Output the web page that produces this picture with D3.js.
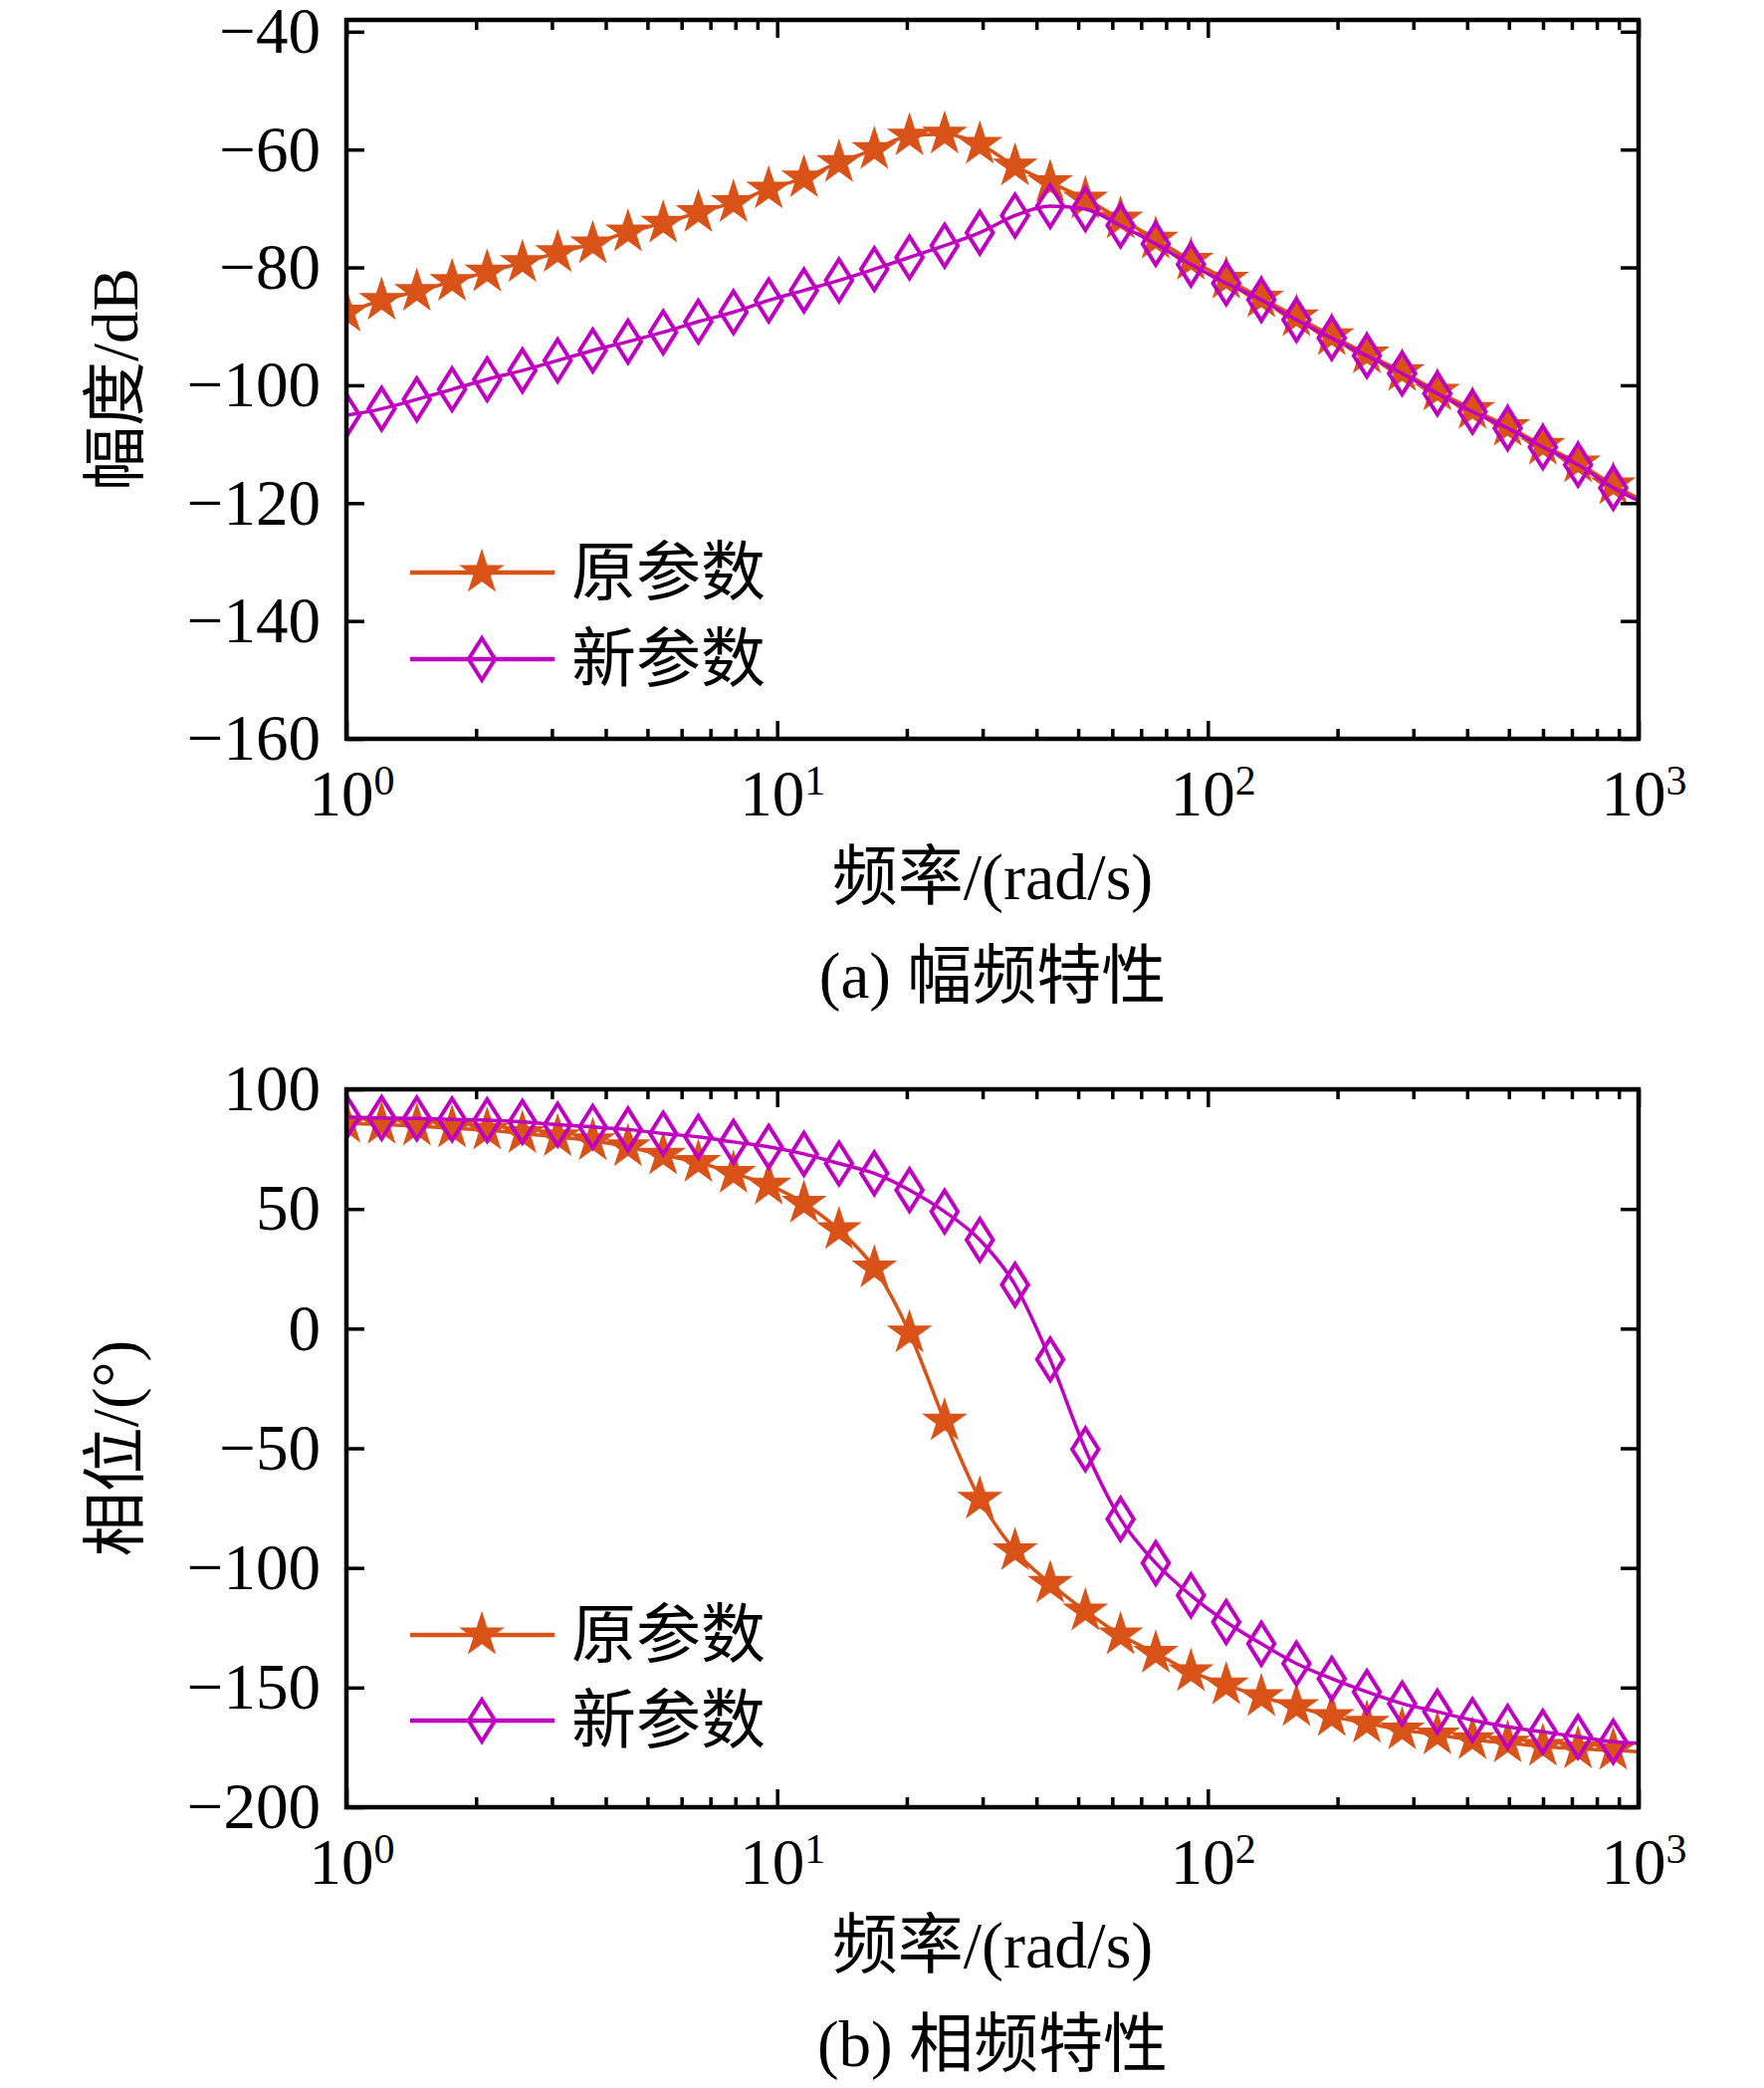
<!DOCTYPE html>
<html>
<head>
<meta charset="utf-8">
<script src="https://cdn.jsdelivr.net/npm/d3@7"></script>
<style>
  body { margin: 0; background: #fff; }
  text { font-family: "Liberation Serif", "Times New Roman", "Noto Sans CJK SC", serif; fill: #000; }
</style>
</head>
<body>
<div id="chart"></div>
<script>
// marker frequencies (rad/s), last value is the end of the curve at 10^3
var freq = [1.000, 1.207, 1.457, 1.759, 2.122, 2.562, 3.093, 3.732, 4.505, 5.437,
  6.561, 7.918, 9.559, 11.54, 13.92, 16.81, 20.29, 24.48, 29.55, 35.67,
  43.05, 51.95, 62.71, 75.69, 91.36, 110.3, 133.1, 160.6, 193.9, 234.0,
  282.5, 341.0, 411.5, 496.7, 599.5, 723.6, 873.4, 1000];

// magnitude (dB)
var magOld = [-87.6, -85.6, -84.1, -82.4, -80.8, -79.2, -77.5, -76.0, -74.0, -72.5,
  -70.7, -69.0, -66.7, -64.8, -62.2, -60.0, -57.7, -57.4, -59.1, -62.8,
  -65.6, -68.4, -71.8, -75.2, -78.8, -82.0, -85.2, -88.4, -91.6, -94.7,
  -97.7, -101.0, -104.1, -107.0, -110.2, -113.2, -116.9, -119.2];
var magNew = [-105.1, -104.0, -102.4, -100.7, -99.0, -97.5, -95.8, -94.1, -92.6, -91.0,
  -89.2, -87.6, -85.6, -83.9, -82.2, -80.3, -78.3, -76.3, -74.1, -71.2,
  -69.6, -70.1, -72.9, -76.0, -79.5, -82.7, -85.5, -88.9, -92.0, -95.0,
  -98.0, -101.4, -104.5, -107.3, -110.5, -113.5, -117.4, -119.6];

// phase (deg)
var phaseOld = [85.8, 85.3, 84.6, 83.8, 82.9, 81.5, 80.1, 78.5, 76.0, 72.5,
  69.4, 64.9, 60.0, 52.4, 41.3, 25.3, -1.8, -38.6, -71.3, -92.8,
  -106.5, -118.0, -128.0, -135.7, -143.4, -148.9, -153.8, -158.0, -162.1, -164.9,
  -167.7, -169.8, -171.8, -173.2, -174.6, -175.6, -176.3, -176.8];
var phaseNew = [88.5, 88.0, 87.8, 87.4, 87.1, 86.4, 85.2, 84.3, 83.2, 81.5,
  80.1, 78.0, 76.0, 73.0, 69.0, 64.9, 57.9, 48.9, 37.1, 18.3,
  -12.9, -50.4, -79.6, -98.0, -111.5, -122.6, -131.7, -140.0, -146.3, -151.8,
  -156.7, -160.1, -163.6, -166.4, -168.5, -170.6, -172.6, -173.3];

var magTicks = [-160, -140, -120, -100, -80, -60, -40];
var phaseTicks = [-200, -150, -100, -50, 0, 50, 100];
var decadeTicks = [1, 10, 100, 1000];
var minorTicks = [2, 3, 4, 5, 6, 7, 8, 9, 20, 30, 40, 50, 60, 70, 80, 90, 200, 300, 400, 500, 600, 700, 800, 900];

var seriesNames = ["原参数", "新参数"];
var colors = ["#D95319", "#C000C0"];

var fontFam = '"Liberation Serif", "Times New Roman", "Noto Sans CJK SC", serif';

var svg = d3.select("#chart")
  .append("svg")
  .attr("width", 1772)
  .attr("height", 2097);

svg.append("rect").attr("width", 1772).attr("height", 2097).attr("fill", "#fff");

var left = 348, right = 1646;
var x = d3.scaleLog().domain([1, 1000]).range([left, right]);

// diamond taller than wide, like the reference
var tallDiamond = {
  draw: function (ctx, size) {
    var h = Math.sqrt(size) * 0.62, w = h * 0.63;
    ctx.moveTo(0, -h);
    ctx.lineTo(w, 0);
    ctx.lineTo(0, h);
    ctx.lineTo(-w, 0);
    ctx.closePath();
  }
};
var starPath = d3.symbol(d3.symbolStar, 490)();
var diamondPath = d3.symbol(tallDiamond, 1150)();

function drawMarker(sel, k) {
  if (k === 0) {
    sel.append("path").attr("d", starPath)
      .attr("fill", colors[0]).attr("stroke", colors[0]).attr("stroke-width", 2);
  } else {
    sel.append("path").attr("d", diamondPath)
      .attr("fill", "none").attr("stroke", colors[1]).attr("stroke-width", 4);
  }
}

function drawPanel(cfg) {
  var y = d3.scaleLinear().domain(cfg.yDomain).range([cfg.bottom, cfg.top]);
  var g = svg.append("g");

  var clipId = "clip" + cfg.id;
  g.append("clipPath").attr("id", clipId)
    .append("rect")
    .attr("x", left).attr("y", cfg.top)
    .attr("width", right - left).attr("height", cfg.bottom - cfg.top);

  // series
  var line = d3.line()
    .x(d => x(d.f))
    .y(d => y(d.v))
    .curve(d3.curveMonotoneX);

  var plot = g.append("g").attr("clip-path", "url(#" + clipId + ")");
  cfg.series.forEach(function (vals, k) {
    var data = freq.map((f, i) => ({ f: f, v: vals[i] }));
    plot.append("path")
      .datum(data)
      .attr("fill", "none")
      .attr("stroke", colors[k])
      .attr("stroke-width", 3.5)
      .attr("d", line);
    var marks = plot.selectAll(".m" + k)
      .data(data.filter(d => d.f < 1000))
      .enter()
      .append("g")
      .attr("class", "m" + k)
      .attr("transform", d => `translate(${x(d.f)}, ${y(d.v)})`);
    drawMarker(marks, k);
  });

  // minor ticks, bottom and top
  g.append("g")
    .attr("transform", `translate(0, ${cfg.bottom})`)
    .call(d3.axisBottom(x).tickValues(minorTicks).tickSize(-10).tickFormat(""))
    .call(a => a.select(".domain").remove());
  g.append("g")
    .attr("transform", `translate(0, ${cfg.top})`)
    .call(d3.axisTop(x).tickValues(minorTicks).tickSize(-10).tickFormat(""))
    .call(a => a.select(".domain").remove());

  // major x ticks with 10^n labels
  var xAxis = g.append("g")
    .attr("transform", `translate(0, ${cfg.bottom})`)
    .call(d3.axisBottom(x).tickValues(decadeTicks).tickSize(-18).tickPadding(31).tickFormat(""))
    .call(a => a.select(".domain").remove());
  xAxis.attr("font-family", fontFam).attr("font-size", 65);
  xAxis.selectAll(".tick text").each(function (d) {
    var t = d3.select(this).attr("dx", 5).attr("fill", "#000");
    t.append("tspan").text("10");
    t.append("tspan").attr("dy", -21).style("font-size", "42px")
      .text(Math.round(Math.log10(d)));
  });
  g.append("g")
    .attr("transform", `translate(0, ${cfg.top})`)
    .call(d3.axisTop(x).tickValues(decadeTicks).tickSize(-18).tickFormat(""))
    .call(a => a.select(".domain").remove());

  // y ticks
  var yAxis = g.append("g")
    .attr("transform", `translate(${left}, 0)`)
    .call(d3.axisLeft(y).tickValues(cfg.yTicks).tickSize(-18).tickPadding(26)
      .tickFormat(d => d < 0 ? "\u2212" + Math.abs(d) : String(d)))
    .call(a => a.select(".domain").remove());
  yAxis.attr("font-family", fontFam).attr("font-size", 65);
  yAxis.selectAll(".tick text").attr("fill", "#000");
  g.append("g")
    .attr("transform", `translate(${right}, 0)`)
    .call(d3.axisRight(y).tickValues(cfg.yTicks).tickSize(-18).tickFormat(""))
    .call(a => a.select(".domain").remove());

  g.selectAll(".tick line").attr("stroke", "#000").attr("stroke-width", 3.5);

  // frame
  g.append("rect")
    .attr("x", left).attr("y", cfg.top)
    .attr("width", right - left).attr("height", cfg.bottom - cfg.top)
    .attr("fill", "none").attr("stroke", "#000").attr("stroke-width", 4.5);

  // legend
  cfg.legendY.forEach(function (ly, k) {
    var lg = g.append("g").attr("transform", `translate(0, ${ly})`);
    lg.append("line")
      .attr("x1", 412).attr("x2", 557)
      .attr("stroke", colors[k]).attr("stroke-width", 4.5);
    drawMarker(lg.append("g").attr("transform", "translate(484, 0)"), k);
    lg.append("text")
      .attr("x", 574).attr("y", 0)
      .attr("dominant-baseline", "central")
      .attr("font-size", 65)
      .text(seriesNames[k]);
  });

  // axis titles and caption
  g.append("text")
    .attr("transform", `translate(116, ${(cfg.top + cfg.bottom) / 2}) rotate(-90)`)
    .attr("text-anchor", "middle")
    .attr("dominant-baseline", "central")
    .attr("font-size", 65)
    .text(cfg.yTitle);

  g.append("text")
    .attr("x", (left + right) / 2).attr("y", cfg.bottom + 161)
    .attr("text-anchor", "middle")
    .attr("font-size", 66)
    .text("频率/(rad/s)");

  g.append("text")
    .attr("x", (left + right) / 2).attr("y", cfg.bottom + 260)
    .attr("text-anchor", "middle")
    .attr("font-size", 65)
    .text(cfg.caption);
}

drawPanel({
  id: "a", top: 20, bottom: 742,
  yDomain: [-160, -38], yTicks: magTicks,
  series: [magOld, magNew],
  legendY: [575, 662],
  yTitle: "幅度/dB",
  caption: "(a) 幅频特性"
});

drawPanel({
  id: "b", top: 1094, bottom: 1815,
  yDomain: [-200, 100], yTicks: phaseTicks,
  series: [phaseOld, phaseNew],
  legendY: [1642, 1728],
  yTitle: "相位/(°)",
  caption: "(b) 相频特性"
});
</script>
</body>
</html>
